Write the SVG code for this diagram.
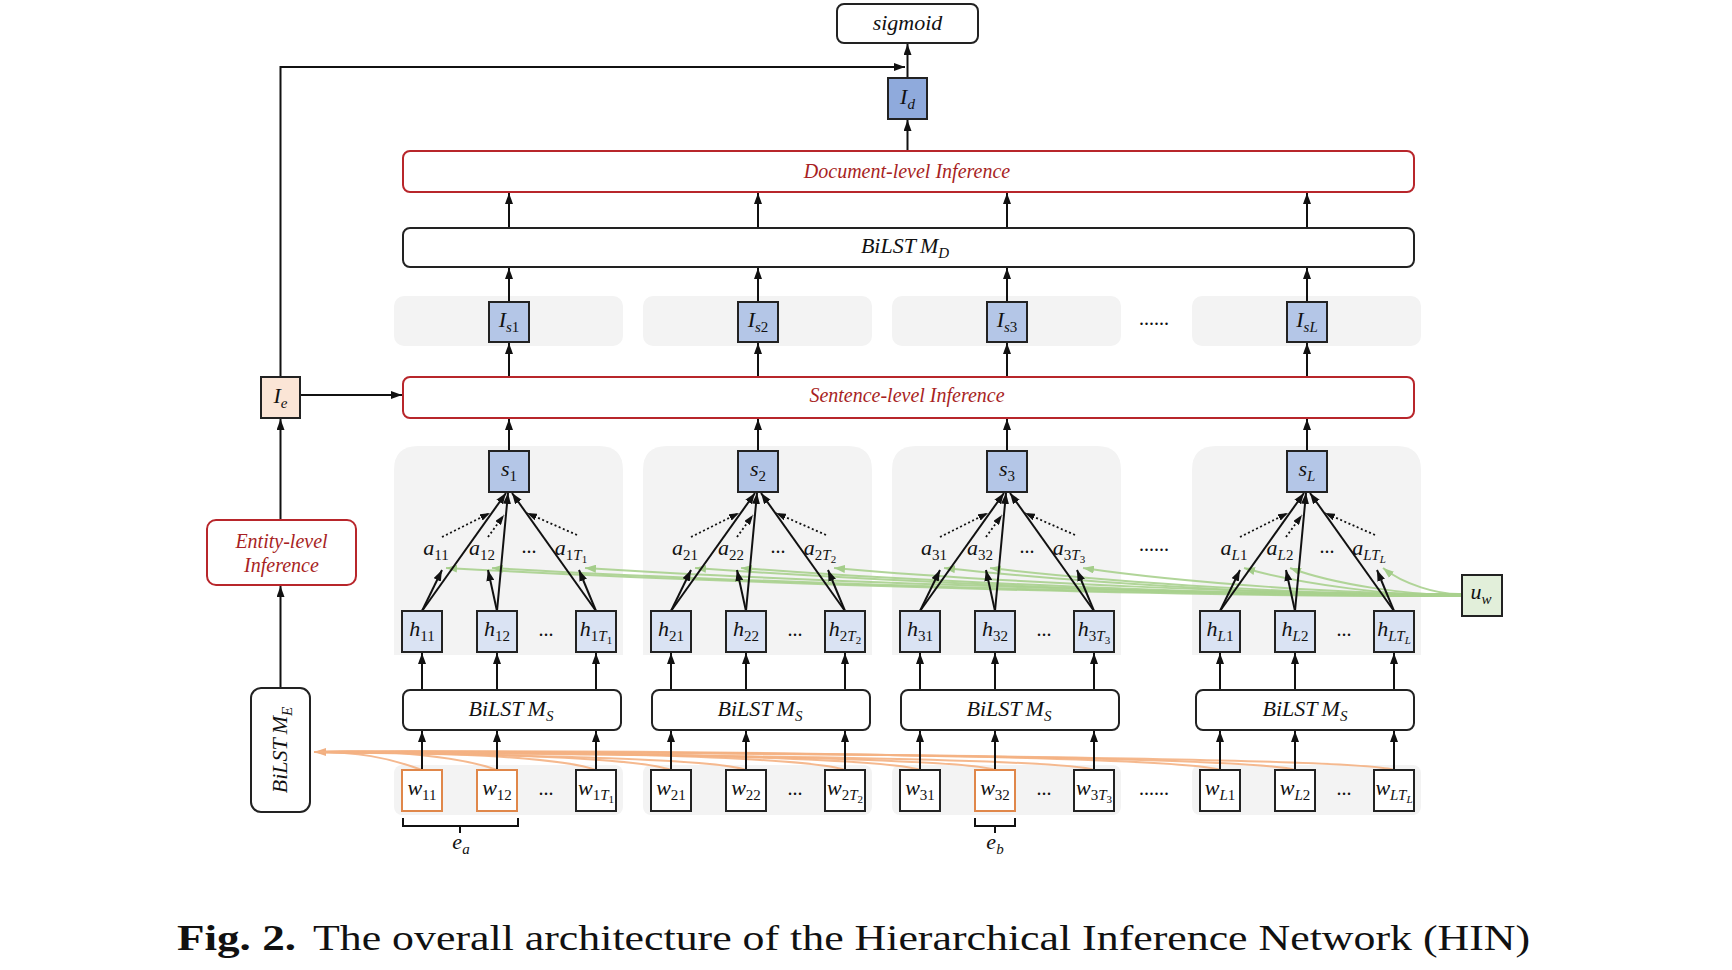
<svg xmlns="http://www.w3.org/2000/svg" width="1732" height="970" viewBox="0 0 1732 970">
<defs>
<marker id="ah" markerWidth="11" markerHeight="8" refX="11" refY="4" orient="auto" markerUnits="userSpaceOnUse"><path d="M0,0 L11,4 L0,8 z" fill="#111"/></marker>
<marker id="ahs" markerWidth="10" markerHeight="7" refX="10" refY="3.5" orient="auto" markerUnits="userSpaceOnUse"><path d="M0,0 L10,3.5 L0,7 z" fill="#111"/></marker>
<marker id="ag" markerWidth="11" markerHeight="8" refX="11" refY="4" orient="auto" markerUnits="userSpaceOnUse"><path d="M0,0 L11,4 L0,8 z" fill="#9cc97f"/></marker>
<marker id="ao" markerWidth="12" markerHeight="8" refX="12" refY="4" orient="auto" markerUnits="userSpaceOnUse"><path d="M0,0 L12,4 L0,8 z" fill="#f0a877"/></marker>
</defs>
<style>
.panel{fill:#f3f3f3}
.bx{stroke:#222;stroke-width:2}
.blue{fill:#b4c6e7}
.lblue{fill:#dae3f3}
.dblue{fill:#8faadc}
.peach{fill:#fbe5d6}
.green{fill:#e2efda}
.white{fill:#fff}
.rbox{fill:#fff;stroke:#b8262b;stroke-width:2}
.obox{fill:#fff;stroke:#e0874a;stroke-width:2}
.ln{stroke:#111;stroke-width:2;fill:none;marker-end:url(#ah)}
.dot{stroke:#111;stroke-width:1.8;fill:none;stroke-dasharray:2 2.5;marker-end:url(#ahs)}
.gc{stroke:#a9d18e;stroke-width:2;fill:none;opacity:0.9;marker-end:url(#ag)}
.oc{stroke:#f4b183;stroke-width:2;fill:none;opacity:0.9}
.t{font-family:"Liberation Serif","DejaVu Serif",serif;font-style:italic;font-size:22px;fill:#111;text-anchor:middle}
.rt{font-family:"Liberation Serif","DejaVu Serif",serif;font-style:italic;font-size:20px;fill:#a81f24;text-anchor:middle}
.sn{font-style:normal;font-size:15px}
.si{font-style:italic;font-size:15px}
.ss{font-style:normal;font-size:11px}
.sis{font-style:italic;font-size:11px}
.dots{font-family:"Liberation Serif",serif;font-size:20px;fill:#111;text-anchor:middle}
</style>
<rect width="1732" height="970" fill="#fff"/>

<g id="panels">
<rect class="panel" x="394" y="296" width="229" height="50" rx="10"/>
<rect class="panel" x="643" y="296" width="229" height="50" rx="10"/>
<rect class="panel" x="892" y="296" width="229" height="50" rx="10"/>
<rect class="panel" x="1192" y="296" width="229" height="50" rx="10"/>
<path class="panel" d="M394,655 V470 Q394,446 418,446 H599 Q623,446 623,470 V655 Z"/>
<path class="panel" d="M643,655 V470 Q643,446 667,446 H848 Q872,446 872,470 V655 Z"/>
<path class="panel" d="M892,655 V470 Q892,446 916,446 H1097 Q1121,446 1121,470 V655 Z"/>
<path class="panel" d="M1192,655 V470 Q1192,446 1216,446 H1397 Q1421,446 1421,470 V655 Z"/>
<rect class="panel" x="394" y="765" width="229" height="50" rx="8"/>
<rect class="panel" x="643" y="765" width="229" height="50" rx="8"/>
<rect class="panel" x="892" y="765" width="229" height="50" rx="8"/>
<rect class="panel" x="1192" y="765" width="229" height="50" rx="8"/>
</g>

<g id="connectors">
<path class="oc" marker-end="url(#ao)" d="M422,770 C387,757 357,752 314,752"/>
<path class="oc" d="M497,770 C462,757 387,749 314,752"/>
<path class="oc" d="M596,770 C561,757 427,751 314,752"/>
<path class="oc" d="M671,770 C636,757 457,753 314,752"/>
<path class="oc" d="M746,770 C711,757 487,755 314,752"/>
<path class="oc" d="M845,770 C810,757 526,749 314,752"/>
<path class="oc" d="M920,770 C885,757 556,751 314,752"/>
<path class="oc" d="M995,770 C960,757 586,753 314,752"/>
<path class="oc" d="M1094,770 C1059,757 626,755 314,752"/>
<path class="oc" d="M1220,770 C1185,757 676,749 314,752"/>
<path class="oc" d="M1295,770 C1260,757 706,751 314,752"/>
<path class="oc" d="M1394,770 C1359,757 746,753 314,752"/>
<path class="gc" d="M1462,596 C1157,597 700,582 446,568"/>
<path class="gc" d="M1462,595 C1171,596 735,582 492,568"/>
<path class="gc" d="M1462,594 C1199,595 804,582 585,568"/>
<path class="gc" d="M1462,596 C1232,597 887,582 695,568"/>
<path class="gc" d="M1462,595 C1246,596 921,582 741,568"/>
<path class="gc" d="M1462,594 C1274,595 991,582 834,568"/>
<path class="gc" d="M1462,596 C1307,597 1074,582 944,568"/>
<path class="gc" d="M1462,595 C1320,596 1108,582 990,568"/>
<path class="gc" d="M1462,594 C1348,595 1178,582 1083,568"/>
<path class="gc" d="M1462,596 C1397,597 1299,584 1244,568"/>
<path class="gc" d="M1462,595 C1410,596 1333,584 1290,568"/>
<path class="gc" d="M1462,594 C1438,595 1403,584 1383,568"/>
<line class="ln" x1="907.5" y1="78" x2="907.5" y2="44"/>
<line class="ln" x1="907.5" y1="151" x2="907.5" y2="120"/>
<path class="ln" d="M280.5,377 V67 H905"/>
<line class="ln" x1="300" y1="395" x2="402" y2="395"/>
<line class="ln" x1="280.5" y1="520" x2="280.5" y2="419"/>
<line class="ln" x1="280.5" y1="688" x2="280.5" y2="586"/>
<line class="ln" x1="509" y1="228" x2="509" y2="193"/>
<line class="ln" x1="758" y1="228" x2="758" y2="193"/>
<line class="ln" x1="1007" y1="228" x2="1007" y2="193"/>
<line class="ln" x1="1307" y1="228" x2="1307" y2="193"/>
<line class="ln" x1="509" y1="302" x2="509" y2="268"/>
<line class="ln" x1="758" y1="302" x2="758" y2="268"/>
<line class="ln" x1="1007" y1="302" x2="1007" y2="268"/>
<line class="ln" x1="1307" y1="302" x2="1307" y2="268"/>
<line class="ln" x1="509" y1="377" x2="509" y2="343"/>
<line class="ln" x1="758" y1="377" x2="758" y2="343"/>
<line class="ln" x1="1007" y1="377" x2="1007" y2="343"/>
<line class="ln" x1="1307" y1="377" x2="1307" y2="343"/>
<line class="ln" x1="509" y1="451" x2="509" y2="419"/>
<line class="ln" x1="758" y1="451" x2="758" y2="419"/>
<line class="ln" x1="1007" y1="451" x2="1007" y2="419"/>
<line class="ln" x1="1307" y1="451" x2="1307" y2="419"/>
<line class="ln" x1="422" y1="770" x2="422" y2="731"/>
<line class="ln" x1="497" y1="770" x2="497" y2="731"/>
<line class="ln" x1="596" y1="770" x2="596" y2="731"/>
<line class="ln" x1="671" y1="770" x2="671" y2="731"/>
<line class="ln" x1="746" y1="770" x2="746" y2="731"/>
<line class="ln" x1="845" y1="770" x2="845" y2="731"/>
<line class="ln" x1="920" y1="770" x2="920" y2="731"/>
<line class="ln" x1="995" y1="770" x2="995" y2="731"/>
<line class="ln" x1="1094" y1="770" x2="1094" y2="731"/>
<line class="ln" x1="1220" y1="770" x2="1220" y2="731"/>
<line class="ln" x1="1295" y1="770" x2="1295" y2="731"/>
<line class="ln" x1="1394" y1="770" x2="1394" y2="731"/>
<line class="ln" x1="422" y1="690" x2="422" y2="653"/>
<line class="ln" x1="497" y1="690" x2="497" y2="653"/>
<line class="ln" x1="596" y1="690" x2="596" y2="653"/>
<line class="ln" x1="671" y1="690" x2="671" y2="653"/>
<line class="ln" x1="746" y1="690" x2="746" y2="653"/>
<line class="ln" x1="845" y1="690" x2="845" y2="653"/>
<line class="ln" x1="920" y1="690" x2="920" y2="653"/>
<line class="ln" x1="995" y1="690" x2="995" y2="653"/>
<line class="ln" x1="1094" y1="690" x2="1094" y2="653"/>
<line class="ln" x1="1220" y1="690" x2="1220" y2="653"/>
<line class="ln" x1="1295" y1="690" x2="1295" y2="653"/>
<line class="ln" x1="1394" y1="690" x2="1394" y2="653"/>
<line class="ln" x1="422" y1="611" x2="506" y2="493"/>
<line class="ln" x1="497" y1="611" x2="508" y2="493"/>
<line class="ln" x1="596" y1="611" x2="512" y2="493"/>
<line class="ln" x1="671" y1="611" x2="755" y2="493"/>
<line class="ln" x1="746" y1="611" x2="757" y2="493"/>
<line class="ln" x1="845" y1="611" x2="761" y2="493"/>
<line class="ln" x1="920" y1="611" x2="1004" y2="493"/>
<line class="ln" x1="995" y1="611" x2="1006" y2="493"/>
<line class="ln" x1="1094" y1="611" x2="1010" y2="493"/>
<line class="ln" x1="1220" y1="611" x2="1304" y2="493"/>
<line class="ln" x1="1295" y1="611" x2="1306" y2="493"/>
<line class="ln" x1="1394" y1="611" x2="1310" y2="493"/>
<line class="ln" x1="422" y1="611" x2="442" y2="570"/>
<line class="ln" x1="497" y1="611" x2="488" y2="570"/>
<line class="ln" x1="596" y1="611" x2="579" y2="570"/>
<line class="ln" x1="671" y1="611" x2="691" y2="570"/>
<line class="ln" x1="746" y1="611" x2="737" y2="570"/>
<line class="ln" x1="845" y1="611" x2="828" y2="570"/>
<line class="ln" x1="920" y1="611" x2="940" y2="570"/>
<line class="ln" x1="995" y1="611" x2="986" y2="570"/>
<line class="ln" x1="1094" y1="611" x2="1077" y2="570"/>
<line class="ln" x1="1220" y1="611" x2="1240" y2="570"/>
<line class="ln" x1="1295" y1="611" x2="1286" y2="570"/>
<line class="ln" x1="1394" y1="611" x2="1377" y2="570"/>
<line class="dot" x1="442" y1="537" x2="490" y2="513"/>
<line class="dot" x1="488" y1="537" x2="504" y2="515"/>
<line class="dot" x1="577" y1="535" x2="527" y2="513"/>
<line class="dot" x1="691" y1="537" x2="739" y2="513"/>
<line class="dot" x1="737" y1="537" x2="753" y2="515"/>
<line class="dot" x1="826" y1="535" x2="776" y2="513"/>
<line class="dot" x1="940" y1="537" x2="988" y2="513"/>
<line class="dot" x1="986" y1="537" x2="1002" y2="515"/>
<line class="dot" x1="1075" y1="535" x2="1025" y2="513"/>
<line class="dot" x1="1240" y1="537" x2="1288" y2="513"/>
<line class="dot" x1="1286" y1="537" x2="1302" y2="515"/>
<line class="dot" x1="1375" y1="535" x2="1325" y2="513"/>
<path d="M403,818 V826 H518 V818 M460,826 V833" stroke="#111" stroke-width="2" fill="none"/>
<path d="M975,818 V826 H1015 V818 M995,826 V833" stroke="#111" stroke-width="2" fill="none"/>
</g>

<g id="top-nodes">
<g id="sigmoid"><rect class="bx white" x="837" y="4" width="141" height="39" rx="7"/><text class="t" x="907.5" y="30">sigmoid</text></g>
<g id="Id"><rect class="bx dblue" x="888" y="78" width="39" height="41"/><text class="t" x="907.5" y="104">I<tspan class="si" dy="5">d</tspan></text></g>
<g id="doc-inference"><rect class="rbox" x="403" y="151" width="1011" height="41" rx="7"/><text class="rt" x="907" y="178">Document-level Inference</text></g>
<g id="bilstm-d"><rect class="bx white" x="403" y="228" width="1011" height="39" rx="7"/><text class="t" x="905" y="253">BiLST<tspan dx="4">M</tspan><tspan class="si" dy="5">D</tspan></text></g>
<g id="sent-inference"><rect class="rbox" x="403" y="377" width="1011" height="41" rx="7"/><text class="rt" x="907" y="402">Sentence-level  Inference</text></g>
<g id="Ie"><rect class="bx peach" x="261" y="377" width="39" height="41"/><text class="t" x="280.5" y="403">I<tspan class="si" dy="5">e</tspan></text></g>
<g id="entity-inference"><rect class="rbox" x="207" y="520" width="149" height="65" rx="9"/><text class="rt" x="281.5" y="548">Entity-level</text><text class="rt" x="281.5" y="572">Inference</text></g>
<g id="bilstm-e"><rect class="bx white" x="251" y="688" width="59" height="124" rx="10"/><text class="t" transform="translate(287,750) rotate(-90)" x="0" y="0">BiLST<tspan dx="4">M</tspan><tspan class="si" dy="5">E</tspan></text></g>
<g id="uw"><rect class="bx green" x="1462" y="575" width="40" height="41"/><text class="t" x="1481" y="599">u<tspan class="si" dy="5">w</tspan></text></g>
<text class="dots" x="1154" y="325">......</text>
<text class="dots" x="1154" y="551">......</text>
<text class="dots" x="1154" y="795">......</text>
</g>

<g id="sentence-1">
<g id="Is1"><rect class="bx blue" x="489" y="302" width="40" height="40"/><text class="t" x="509" y="327">I<tspan class="si" dy="5">s</tspan><tspan class="sn">1</tspan></text></g>
<g id="s1"><rect class="bx blue" x="489" y="451" width="40" height="41"/><text class="t" x="509" y="476">s<tspan class="sn" dy="5">1</tspan></text></g>
<text class="t" x="436" y="555">a<tspan class="sn" dy="5">11</tspan></text>
<text class="t" x="482" y="555">a<tspan class="sn" dy="5">12</tspan></text>
<text class="dots" x="529" y="553">...</text>
<text class="t" x="571" y="555">a<tspan class="sn" dy="5">1</tspan><tspan class="si">T</tspan><tspan class="ss" dy="3">1</tspan></text>
<g id="h11"><rect class="bx lblue" x="402" y="611" width="40" height="41"/><text class="t" x="422" y="636">h<tspan class="sn" dy="5">11</tspan></text></g>
<g id="h12"><rect class="bx lblue" x="477" y="611" width="40" height="41"/><text class="t" x="497" y="636">h<tspan class="sn" dy="5">12</tspan></text></g>
<text class="dots" x="546" y="636">...</text>
<g id="h1T1"><rect class="bx lblue" x="576" y="611" width="40" height="41"/><text class="t" x="596" y="636">h<tspan class="sn" dy="5">1</tspan><tspan class="si">T</tspan><tspan class="ss" dy="3">1</tspan></text></g>
<g id="bilstm-s1"><rect class="bx white" x="403" y="690" width="218" height="40" rx="7"/><text class="t" x="511" y="716">BiLST<tspan dx="4">M</tspan><tspan class="si" dy="5">S</tspan></text></g>
<g id="w11"><rect class="obox" x="402" y="770" width="40" height="41"/><text class="t" x="422" y="795">w<tspan class="sn" dy="5">11</tspan></text></g>
<g id="w12"><rect class="obox" x="477" y="770" width="40" height="41"/><text class="t" x="497" y="795">w<tspan class="sn" dy="5">12</tspan></text></g>
<text class="dots" x="546" y="795">...</text>
<g id="w1T1"><rect class="bx white" x="576" y="770" width="40" height="41"/><text class="t" x="596" y="795">w<tspan class="sn" dy="5">1</tspan><tspan class="si">T</tspan><tspan class="ss" dy="3">1</tspan></text></g>
<text class="t" x="461" y="849">e<tspan class="si" dy="5">a</tspan></text>
</g>

<g id="sentence-2">
<g id="Is2"><rect class="bx blue" x="738" y="302" width="40" height="40"/><text class="t" x="758" y="327">I<tspan class="si" dy="5">s</tspan><tspan class="sn">2</tspan></text></g>
<g id="s2"><rect class="bx blue" x="738" y="451" width="40" height="41"/><text class="t" x="758" y="476">s<tspan class="sn" dy="5">2</tspan></text></g>
<text class="t" x="685" y="555">a<tspan class="sn" dy="5">21</tspan></text>
<text class="t" x="731" y="555">a<tspan class="sn" dy="5">22</tspan></text>
<text class="dots" x="778" y="553">...</text>
<text class="t" x="820" y="555">a<tspan class="sn" dy="5">2</tspan><tspan class="si">T</tspan><tspan class="ss" dy="3">2</tspan></text>
<g id="h21"><rect class="bx lblue" x="651" y="611" width="40" height="41"/><text class="t" x="671" y="636">h<tspan class="sn" dy="5">21</tspan></text></g>
<g id="h22"><rect class="bx lblue" x="726" y="611" width="40" height="41"/><text class="t" x="746" y="636">h<tspan class="sn" dy="5">22</tspan></text></g>
<text class="dots" x="795" y="636">...</text>
<g id="h2T2"><rect class="bx lblue" x="825" y="611" width="40" height="41"/><text class="t" x="845" y="636">h<tspan class="sn" dy="5">2</tspan><tspan class="si">T</tspan><tspan class="ss" dy="3">2</tspan></text></g>
<g id="bilstm-s2"><rect class="bx white" x="652" y="690" width="218" height="40" rx="7"/><text class="t" x="760" y="716">BiLST<tspan dx="4">M</tspan><tspan class="si" dy="5">S</tspan></text></g>
<g id="w21"><rect class="bx white" x="651" y="770" width="40" height="41"/><text class="t" x="671" y="795">w<tspan class="sn" dy="5">21</tspan></text></g>
<g id="w22"><rect class="bx white" x="726" y="770" width="40" height="41"/><text class="t" x="746" y="795">w<tspan class="sn" dy="5">22</tspan></text></g>
<text class="dots" x="795" y="795">...</text>
<g id="w2T2"><rect class="bx white" x="825" y="770" width="40" height="41"/><text class="t" x="845" y="795">w<tspan class="sn" dy="5">2</tspan><tspan class="si">T</tspan><tspan class="ss" dy="3">2</tspan></text></g>
</g>

<g id="sentence-3">
<g id="Is3"><rect class="bx blue" x="987" y="302" width="40" height="40"/><text class="t" x="1007" y="327">I<tspan class="si" dy="5">s</tspan><tspan class="sn">3</tspan></text></g>
<g id="s3"><rect class="bx blue" x="987" y="451" width="40" height="41"/><text class="t" x="1007" y="476">s<tspan class="sn" dy="5">3</tspan></text></g>
<text class="t" x="934" y="555">a<tspan class="sn" dy="5">31</tspan></text>
<text class="t" x="980" y="555">a<tspan class="sn" dy="5">32</tspan></text>
<text class="dots" x="1027" y="553">...</text>
<text class="t" x="1069" y="555">a<tspan class="sn" dy="5">3</tspan><tspan class="si">T</tspan><tspan class="ss" dy="3">3</tspan></text>
<g id="h31"><rect class="bx lblue" x="900" y="611" width="40" height="41"/><text class="t" x="920" y="636">h<tspan class="sn" dy="5">31</tspan></text></g>
<g id="h32"><rect class="bx lblue" x="975" y="611" width="40" height="41"/><text class="t" x="995" y="636">h<tspan class="sn" dy="5">32</tspan></text></g>
<text class="dots" x="1044" y="636">...</text>
<g id="h3T3"><rect class="bx lblue" x="1074" y="611" width="40" height="41"/><text class="t" x="1094" y="636">h<tspan class="sn" dy="5">3</tspan><tspan class="si">T</tspan><tspan class="ss" dy="3">3</tspan></text></g>
<g id="bilstm-s3"><rect class="bx white" x="901" y="690" width="218" height="40" rx="7"/><text class="t" x="1009" y="716">BiLST<tspan dx="4">M</tspan><tspan class="si" dy="5">S</tspan></text></g>
<g id="w31"><rect class="bx white" x="900" y="770" width="40" height="41"/><text class="t" x="920" y="795">w<tspan class="sn" dy="5">31</tspan></text></g>
<g id="w32"><rect class="obox" x="975" y="770" width="40" height="41"/><text class="t" x="995" y="795">w<tspan class="sn" dy="5">32</tspan></text></g>
<text class="dots" x="1044" y="795">...</text>
<g id="w3T3"><rect class="bx white" x="1074" y="770" width="40" height="41"/><text class="t" x="1094" y="795">w<tspan class="sn" dy="5">3</tspan><tspan class="si">T</tspan><tspan class="ss" dy="3">3</tspan></text></g>
<text class="t" x="995" y="849">e<tspan class="si" dy="5">b</tspan></text>
</g>

<g id="sentence-L">
<g id="IsL"><rect class="bx blue" x="1287" y="302" width="40" height="40"/><text class="t" x="1307" y="327">I<tspan class="si" dy="5">sL</tspan></text></g>
<g id="sL"><rect class="bx blue" x="1287" y="451" width="40" height="41"/><text class="t" x="1307" y="476">s<tspan class="si" dy="5">L</tspan></text></g>
<text class="t" x="1234" y="555">a<tspan class="si" dy="5">L</tspan><tspan class="sn">1</tspan></text>
<text class="t" x="1280" y="555">a<tspan class="si" dy="5">L</tspan><tspan class="sn">2</tspan></text>
<text class="dots" x="1327" y="553">...</text>
<text class="t" x="1369" y="555">a<tspan class="si" dy="5">LT</tspan><tspan class="sis" dy="3">L</tspan></text>
<g id="hL1"><rect class="bx lblue" x="1200" y="611" width="40" height="41"/><text class="t" x="1220" y="636">h<tspan class="si" dy="5">L</tspan><tspan class="sn">1</tspan></text></g>
<g id="hL2"><rect class="bx lblue" x="1275" y="611" width="40" height="41"/><text class="t" x="1295" y="636">h<tspan class="si" dy="5">L</tspan><tspan class="sn">2</tspan></text></g>
<text class="dots" x="1344" y="636">...</text>
<g id="hLTL"><rect class="bx lblue" x="1374" y="611" width="40" height="41"/><text class="t" x="1394" y="636">h<tspan class="si" dy="5">LT</tspan><tspan class="sis" dy="3">L</tspan></text></g>
<g id="bilstm-sL"><rect class="bx white" x="1196" y="690" width="218" height="40" rx="7"/><text class="t" x="1305" y="716">BiLST<tspan dx="4">M</tspan><tspan class="si" dy="5">S</tspan></text></g>
<g id="wL1"><rect class="bx white" x="1200" y="770" width="40" height="41"/><text class="t" x="1220" y="795">w<tspan class="si" dy="5">L</tspan><tspan class="sn">1</tspan></text></g>
<g id="wL2"><rect class="bx white" x="1275" y="770" width="40" height="41"/><text class="t" x="1295" y="795">w<tspan class="si" dy="5">L</tspan><tspan class="sn">2</tspan></text></g>
<text class="dots" x="1344" y="795">...</text>
<g id="wLTL"><rect class="bx white" x="1374" y="770" width="40" height="41"/><text class="t" x="1394" y="795">w<tspan class="si" dy="5">LT</tspan><tspan class="sis" dy="3">L</tspan></text></g>
</g>

<g id="caption">
<text x="177" y="950" font-family="'Liberation Serif',serif" font-weight="bold" font-size="36" fill="#111" textLength="119" lengthAdjust="spacingAndGlyphs">Fig. 2.</text>
<text x="313" y="950" font-family="'Liberation Serif',serif" font-size="36" fill="#111" textLength="1217" lengthAdjust="spacingAndGlyphs">The overall architecture of the Hierarchical Inference Network (HIN)</text>
</g>
</svg>
